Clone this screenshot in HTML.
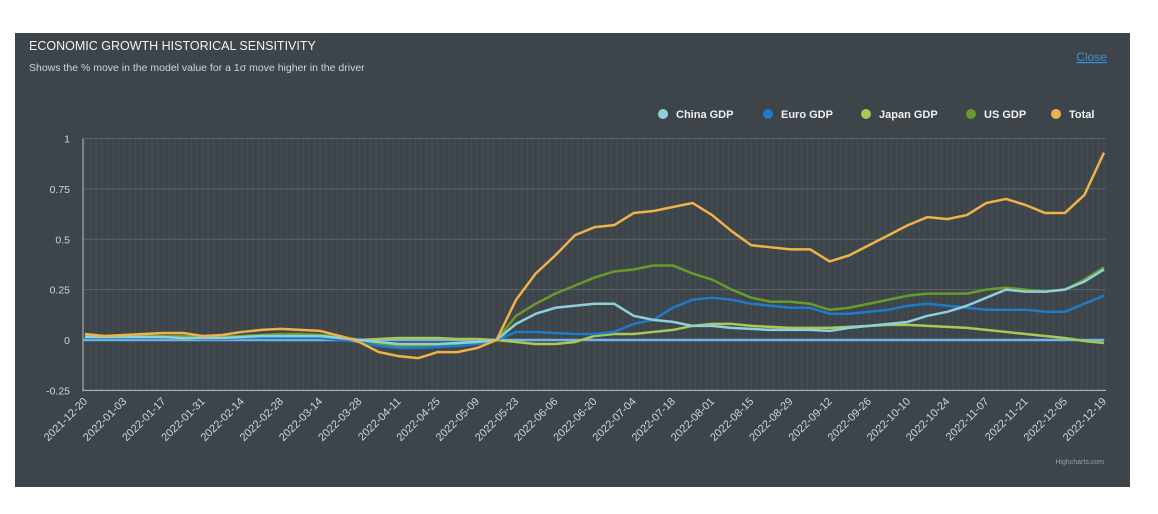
<!DOCTYPE html>
<html><head><meta charset="utf-8"><style>
body{margin:0;background:#fff;width:1158px;height:514px;overflow:hidden;font-family:"Liberation Sans",sans-serif}
#panel{position:absolute;left:15px;top:33px;width:1115px;height:454px;background:#3d454b}
</style></head><body>
<div id="panel"></div>
<svg id="chart" width="1158" height="514" style="position:absolute;left:0;top:0">
<text x="29" y="50" fill="#f2f2f2" font-size="12.5">ECONOMIC GROWTH HISTORICAL SENSITIVITY</text>
<text x="29" y="71" fill="#cfd3d6" font-size="10.5">Shows the % move in the model value for a 1σ move higher in the driver</text>
<text x="1107" y="61" fill="#3a8fd6" font-size="12" text-anchor="end" text-decoration="underline">Close</text>
<text x="1104" y="464" fill="#9aa0a4" font-size="7" text-anchor="end">Highcharts.com</text>
<g id="grid"></g><g id="axes"></g><g id="series"></g><g id="legend"></g>
</svg>
<script>
const dates=["2021-12-20","2022-01-03","2022-01-17","2022-01-31","2022-02-14","2022-02-28","2022-03-14","2022-03-28","2022-04-11","2022-04-25","2022-05-09","2022-05-23","2022-06-06","2022-06-20","2022-07-04","2022-07-18","2022-08-01","2022-08-15","2022-08-29","2022-09-12","2022-09-26","2022-10-10","2022-10-24","2022-11-07","2022-11-21","2022-12-05","2022-12-19"];
const yTicks=[-0.25,0,0.25,0.5,0.75,1];
const yTickLabels=["-0.25","0","0.25","0.5","0.75","1"];
const seriesNames=["China GDP","Euro GDP","Japan GDP","US GDP","Total"];
const china=[0.015,0.015,0.015,0.015,0.015,0.01,0.01,0.01,0.015,0.02,0.02,0.02,0.02,0.01,0,-0.01,-0.02,-0.02,-0.02,-0.015,-0.01,0,0.08,0.13,0.16,0.17,0.18,0.18,0.12,0.10,0.09,0.07,0.07,0.06,0.055,0.05,0.05,0.05,0.045,0.06,0.07,0.08,0.09,0.12,0.14,0.17,0.21,0.25,0.24,0.24,0.25,0.29,0.35];
const euro=[0.01,0.01,0.01,0.01,0.01,0.01,0.005,0.005,0.01,0.01,0.01,0.01,0.01,0.0,-0.01,-0.03,-0.04,-0.04,-0.035,-0.03,-0.02,0,0.04,0.04,0.035,0.03,0.03,0.04,0.08,0.10,0.16,0.20,0.21,0.20,0.18,0.17,0.16,0.16,0.13,0.13,0.14,0.15,0.17,0.18,0.17,0.16,0.15,0.15,0.15,0.14,0.14,0.18,0.22];
const japan=[0.01,0.01,0.01,0.01,0.01,0.01,0.005,0.005,0.01,0.01,0.01,0.01,0.01,0.005,0,0.005,0.01,0.01,0.01,0.005,0.005,0,-0.01,-0.02,-0.02,-0.01,0.02,0.03,0.03,0.04,0.05,0.07,0.08,0.08,0.07,0.065,0.06,0.06,0.06,0.065,0.07,0.075,0.075,0.07,0.065,0.06,0.05,0.04,0.03,0.02,0.01,-0.005,-0.015];
const us=[0.02,0.02,0.02,0.02,0.02,0.02,0.015,0.015,0.02,0.025,0.03,0.03,0.025,0.02,0,-0.02,-0.03,-0.03,-0.025,-0.02,-0.01,0,0.12,0.18,0.23,0.27,0.31,0.34,0.35,0.37,0.37,0.33,0.30,0.25,0.21,0.19,0.19,0.18,0.15,0.16,0.18,0.20,0.22,0.23,0.23,0.23,0.25,0.26,0.25,0.24,0.25,0.30,0.36];
const total=[0.03,0.02,0.025,0.03,0.035,0.035,0.02,0.025,0.04,0.05,0.055,0.05,0.045,0.02,-0.01,-0.06,-0.08,-0.09,-0.06,-0.06,-0.04,0.0,0.2,0.33,0.42,0.52,0.56,0.57,0.63,0.64,0.66,0.68,0.62,0.54,0.47,0.46,0.45,0.45,0.39,0.42,0.47,0.52,0.57,0.61,0.60,0.62,0.68,0.70,0.67,0.63,0.63,0.72,0.93];
const colors=["#8fd0d8","#1f7bc8","#a6c957","#6a9a2a","#f0b14a"];
const NS="http://www.w3.org/2000/svg";
const X0=85,X1=1104,Y0=340,YS=201.5,nWeeks=52;
function xw(i){return X0+(X1-X0)*i/nWeeks}
function y(v){return Y0-v*YS}
function mk(tag,attrs,parent){const e=document.createElementNS(NS,tag);for(const k in attrs)e.setAttribute(k,attrs[k]);parent.appendChild(e);return e}
const grid=document.getElementById('grid'),axes=document.getElementById('axes'),ser=document.getElementById('series'),leg=document.getElementById('legend');
for(let d=0;d<=364;d+=2){const l=mk('line',{x1:X0+(X1-X0)*d/364,x2:X0+(X1-X0)*d/364,y1:y(1),y2:y(-0.25),stroke:'#5a646b','stroke-width':1,'stroke-opacity':0.35},grid);

}
yTicks.forEach((t,i)=>{const l=mk('line',{x1:83,x2:X1+2,y1:y(t),y2:y(t),stroke:'#5a646b','stroke-width':1},grid);


const tx=mk('text',{x:70,y:y(t)+4,fill:'#d0d4d6','font-size':10.5,'text-anchor':'end'},axes);tx.textContent=yTickLabels[i];

});
const ax=mk('line',{x1:83,x2:83,y1:y(1),y2:y(-0.25)+1,stroke:'#b8bec2','stroke-width':1},axes);


const bx=mk('line',{x1:83,x2:X1+2,y1:y(-0.25),y2:y(-0.25),stroke:'#b8bec2','stroke-width':1},axes);


dates.forEach((d,i)=>{const px=xw(i*2);const t=mk('text',{x:px+3,y:402,fill:'#d0d4d6','font-size':11,'text-anchor':'end',transform:`rotate(-45 ${px+3} 402)`},axes);t.textContent=d;

});
const zl=mk('line',{x1:83,x2:X1,y1:y(0),y2:y(0),stroke:'#6fb3e8','stroke-width':2.5},ser);


const data=[china,euro,japan,us,total];
const order=[3,2,1,0,4];
order.forEach(k=>{const p=mk('polyline',{points:data[k].map((v,i)=>xw(i)+','+y(v)).join(' '),fill:'none',stroke:colors[k],'stroke-width':2.5,'stroke-linejoin':'round'},ser);

});
const lx=[663,768,866,971,1056];
seriesNames.forEach((n,k)=>{const g=mk('g',{},leg);


mk('circle',{cx:lx[k],cy:114,r:5,fill:colors[k]},g);
const t=mk('text',{x:lx[k]+13,y:118,fill:'#eef0f1','font-size':11,'font-weight':'bold'},g);t.textContent=n;});
</script>
</body></html>
